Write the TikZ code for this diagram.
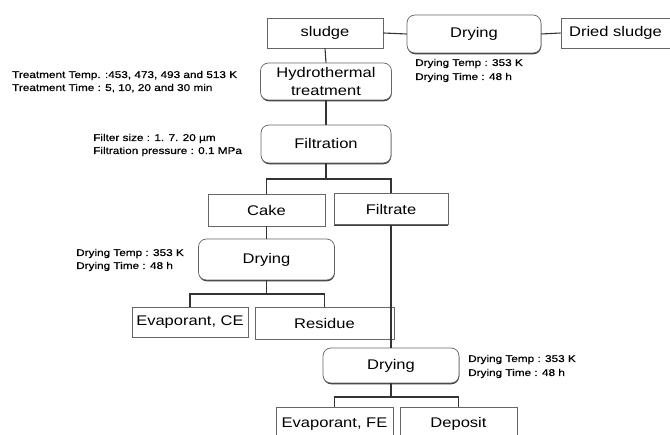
\documentclass[tikz,border=0pt]{standalone}
\usepackage{fontspec}
\setmainfont{Liberation Sans}[FakeStretch=1.18]
\newfontfamily\lblfont{Liberation Sans}[FakeStretch=1.2,FakeBold=0.6]
\usetikzlibrary{shadows}
\tikzset{
  box/.style={draw=black!60, line width=0.7pt, fill=white, inner sep=0pt,
    font=\fontsize{14}{18}\selectfont, align=center,
    drop shadow={shadow xshift=0.3pt, shadow yshift=-1.3pt, fill=black!75, opacity=1}},
  rbox/.style={box, rounded corners=8pt},
  lbl/.style={anchor=base west, inner sep=0pt, font=\lblfont\fontsize{9.8}{12}\selectfont},
  conn/.style={draw=black!80, line width=1.1pt}
}
\begin{document}
\begin{tikzpicture}[x=1pt,y=-1pt]
\useasboundingbox (0,0) rectangle (670,435);
\clip (0,0) rectangle (670,435);
\fill[white] (0,0) rectangle (670,435);

% nodes
\node[box, minimum width=116pt, minimum height=30pt] (sludge) at (325,33) {sludge};
\node[rbox, minimum width=134pt, minimum height=38pt] (dry1) at (474,34) {Drying};
\node[box, minimum width=109pt, minimum height=30pt] (dried) at (615.5,33) {Dried sludge};
\node[rbox, minimum width=131pt, minimum height=37pt] (hydro) at (326,81.5) {Hydrothermal\\treatment};
\node[rbox, minimum width=130pt, minimum height=38pt] (filt) at (326,144) {Filtration};
\node[box, minimum width=117pt, minimum height=32pt] (cake) at (266.5,210) {Cake};
\node[box, minimum width=114pt, minimum height=31pt] (filtrate) at (391,209) {Filtrate};
\node[rbox, minimum width=136pt, minimum height=41pt] (dry2) at (266.5,259.5) {Drying};
\node[box, minimum width=116pt, minimum height=30pt] (evce) at (190,322) {Evaporant, CE};
\node[box, minimum width=139pt, minimum height=32pt] (resid) at (324.5,323) {Residue};
\node[rbox, minimum width=136pt, minimum height=35pt] (dry3) at (391,365.5) {Drying};
\node[box, minimum width=117pt, minimum height=34pt] (evfe) at (334.5,424) {Evaporant, FE};
\node[box, minimum width=117pt, minimum height=34pt] (depo) at (458.5,424) {Deposit};

% labels
\node[lbl] (t1) at (12,78) {Treatment Temp. :453, 473, 493 and 513 K};
\node[lbl] (t2) at (12,91) {Treatment Time : 5, 10, 20 and 30 min};
\node[lbl] (f1) at (93,141) {Filter size : 1. 7. 20 \textmu m};
\node[lbl] (f2) at (93,154) {Filtration pressure : 0.1 MPa};
\node[lbl] (d1a) at (415,66) {Drying Temp : 353 K};
\node[lbl] (d1b) at (415,80) {Drying Time : 48 h};
\node[lbl] (d2a) at (76,256) {Drying Temp : 353 K};
\node[lbl] (d2b) at (76,269) {Drying Time : 48 h};
\node[lbl] (d3a) at (468,362) {Drying Temp : 353 K};
\node[lbl] (d3b) at (468,376) {Drying Time : 48 h};

% connectors
\coordinate (s1) at (326,179);
\coordinate (s2) at (266.5,294);
\coordinate (s3) at (391,397);
\draw[conn] (sludge.east) -- (dry1.west);
\draw[conn] (dry1.east) -- (dried.west);
\draw[conn] (sludge.south) -- (hydro.north);
\draw[conn] (hydro.south) -- (filt.north);
\draw[conn] (filt.south) -- (s1);
\draw[conn] (cake.north) |- (s1) -| (filtrate.north);
\draw[conn] (cake.south) -- (dry2.north);
\draw[conn] (dry2.south) -- (s2);
\draw[conn] (evce.north) |- (s2) -| (resid.north);
\draw[conn] (filtrate.south) -- (dry3.north);
\draw[conn] (dry3.south) -- (s3);
\draw[conn] (evfe.north) |- (s3) -| (depo.north);
\end{tikzpicture}
\end{document}
